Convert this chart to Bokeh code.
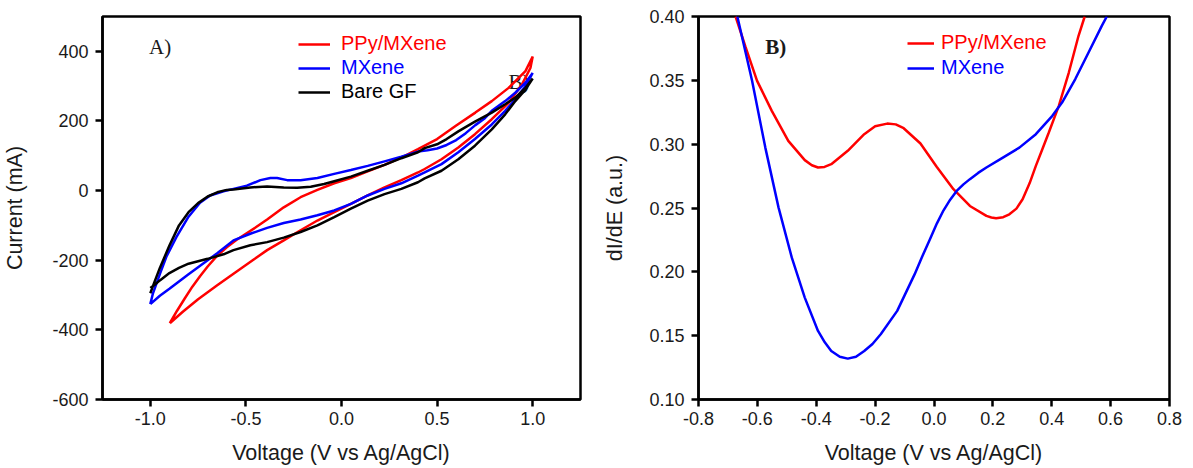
from bokeh.plotting import figure
from bokeh.layouts import row
from bokeh.models import Legend, LegendItem, FixedTicker, NumeralTickFormatter, Range1d
from bokeh.core.properties import value
from bokeh.embed import file_html
from bokeh.resources import INLINE

# ---------------- Panel A: cyclic voltammograms ----------------
ppy_v = [-0.898, -0.86, -0.82, -0.78, -0.74, -0.70, -0.65, -0.60, -0.55, -0.50, -0.45, -0.389,
         -0.302, -0.214, -0.126, -0.038, 0.049, 0.137, 0.225, 0.313, 0.40, 0.50, 0.60, 0.70,
         0.786, 0.874, 0.962, 1.0,
         0.988, 0.944, 0.874, 0.786, 0.698, 0.611, 0.523, 0.435, 0.40, 0.313, 0.225, 0.137,
         0.049, -0.038, -0.126, -0.214, -0.302, -0.389, -0.459, -0.55, -0.65, -0.75, -0.83, -0.898]
ppy_i = [-381, -345, -310, -276, -246, -218, -187, -163, -142, -124, -106, -83,
         -48, -19, 2, 21, 36, 55, 74, 95, 119, 148, 187, 224,
         257, 295, 343, 385,
         352, 305, 252, 205, 162, 124, 90, 62, 52, 30, 9, -14,
         -38, -62, -86, -114, -143, -171, -198, -233, -272, -312, -348, -381]

mx_v = [-1.0, -0.986, -0.95, -0.916, -0.863, -0.80, -0.74, -0.687, -0.617, -0.565, -0.495, -0.424,
        -0.372, -0.337, -0.284, -0.214, -0.126, -0.038, 0.049, 0.137, 0.225, 0.313, 0.40, 0.45,
        0.50, 0.55, 0.60, 0.65, 0.70, 0.75, 0.786, 0.856, 0.909, 0.962, 1.0,
        0.962, 0.909, 0.856, 0.786, 0.698, 0.611, 0.523, 0.435, 0.40, 0.313, 0.225, 0.137,
        0.049, -0.038, -0.126, -0.214, -0.302, -0.389, -0.477, -0.565, -0.65, -0.70, -0.80,
        -0.90, -0.95, -1.0]
mx_i = [-326, -295, -240, -190, -133, -75, -35, -14, -2, 5, 14, 30,
        36, 36, 30, 30, 36, 48, 59, 71, 84, 97, 112, 116,
        121, 131, 145, 165, 188, 208, 229, 257, 281, 310, 338,
        300, 262, 229, 190, 148, 110, 76, 52, 43, 21, 5, -14,
        -38, -57, -71, -83, -93, -107, -124, -143, -180, -200, -240,
        -282, -302, -326]

gf_v = [-1.0, -0.98, -0.95, -0.90, -0.85, -0.80, -0.75, -0.70, -0.65, -0.60, -0.565, -0.477,
        -0.389, -0.302, -0.232, -0.161, -0.091, -0.038, 0.049, 0.137, 0.225, 0.313, 0.40, 0.435,
        0.50, 0.55, 0.611, 0.698, 0.786, 0.856, 0.909, 0.962, 1.0,
        0.962, 0.909, 0.856, 0.786, 0.698, 0.611, 0.523, 0.435, 0.40, 0.313, 0.225, 0.137,
        0.049, -0.038, -0.126, -0.214, -0.302, -0.389, -0.477, -0.565, -0.617, -0.70, -0.80,
        -0.85, -0.90, -0.95, -0.98, -1.0]
gf_i = [-295, -265, -222, -158, -100, -62, -36, -17, -5, 2, 3, 9,
        12, 9, 8, 11, 19, 27, 40, 57, 74, 93, 110, 122,
        133, 148, 170, 198, 224, 248, 267, 295, 322,
        290, 257, 219, 176, 129, 90, 57, 35, 24, 5, -10, -29,
        -52, -76, -100, -119, -135, -148, -157, -171, -183, -196, -210,
        -222, -237, -258, -272, -280]

a_xticks = [-1.0, -0.5, 0.0, 0.5, 1.0]
a_yticks = [-600, -400, -200, 0, 200, 400]

# ---------------- Panel B: dI/dE ----------------
ppy_dv = [-0.674, -0.64, -0.601, -0.551, -0.495, -0.439, -0.415, -0.394, -0.372, -0.349, -0.293,
          -0.237, -0.20, -0.159, -0.13, -0.103, -0.046, 0.009, 0.066, 0.122, 0.178, 0.195, 0.211,
          0.235, 0.256, 0.28, 0.301, 0.325, 0.346, 0.368, 0.390, 0.424, 0.458, 0.491, 0.512]
ppy_di = [0.400, 0.376, 0.3496, 0.3261, 0.3026, 0.2875, 0.2835, 0.2817, 0.2822, 0.2843, 0.2948,
          0.3078, 0.3140, 0.3161, 0.3155, 0.3125, 0.3005, 0.2823, 0.2647, 0.2516, 0.2438, 0.2426, 0.2420,
          0.2428, 0.2451, 0.2495, 0.2569, 0.2695, 0.2830, 0.2960, 0.3091, 0.3300, 0.3561, 0.3849, 0.400]

mx_dv = [-0.668, -0.618, -0.573, -0.528, -0.483, -0.439, -0.394, -0.371, -0.349, -0.32, -0.293,
         -0.265, -0.237, -0.209, -0.181, -0.125, -0.066, -0.04, -0.013, 0.01, 0.032, 0.055, 0.077,
         0.10, 0.122, 0.15, 0.178, 0.234, 0.290, 0.346, 0.402, 0.435, 0.480, 0.525, 0.570, 0.587]
mx_di = [0.400, 0.3496, 0.2973, 0.2503, 0.2111, 0.1798, 0.1537, 0.1448, 0.1380, 0.1335, 0.1320,
         0.1335, 0.1380, 0.1435, 0.1511, 0.1694, 0.1980, 0.2120, 0.2260, 0.2380, 0.2480, 0.2565, 0.2634,
         0.2685, 0.2726, 0.2775, 0.2817, 0.2895, 0.2973, 0.3078, 0.3222, 0.3326, 0.3510, 0.3718, 0.3927, 0.400]

b_xticks = [-0.8, -0.6, -0.4, -0.2, 0.0, 0.2, 0.4, 0.6, 0.8]
b_yticks = [0.10, 0.15, 0.20, 0.25, 0.30, 0.35, 0.40]

series_a = ["PPy/MXene", "MXene", "Bare GF"]
series_b = ["PPy/MXene", "MXene"]
colors = {"PPy/MXene": "#ff0000", "MXene": "#0000ff", "Bare GF": "#000000"}

SANS = "Liberation Sans"
SERIF = "Liberation Serif"
TXT = "#1a1a1a"


def style(p, xticks, yticks, xfmt, yfmt):
    p.xgrid.visible = False
    p.ygrid.visible = False
    p.outline_line_color = "black"
    p.outline_line_width = 2.5
    p.outline_line_alpha = 1.0
    p.background_fill_color = "white"
    p.border_fill_color = "white"
    p.xaxis[0].ticker = FixedTicker(ticks=xticks)
    p.yaxis[0].ticker = FixedTicker(ticks=yticks)
    p.xaxis[0].formatter = NumeralTickFormatter(format=xfmt)
    p.yaxis[0].formatter = NumeralTickFormatter(format=yfmt)
    for ax in (p.xaxis[0], p.yaxis[0]):
        ax.axis_line_width = 2.5
        ax.axis_line_color = "black"
        ax.major_tick_line_width = 2.5
        ax.major_tick_line_color = "black"
        ax.major_tick_out = 7
        ax.major_tick_in = 0
        ax.minor_tick_out = 0
        ax.minor_tick_in = 0
        ax.major_label_text_font = SANS
        ax.major_label_text_font_size = "18px"
        ax.major_label_text_color = TXT
        ax.axis_label_text_font = SANS
        ax.axis_label_text_font_size = "21.5px"
        ax.axis_label_text_font_style = "normal"
        ax.axis_label_text_color = TXT
    p.xaxis[0].major_label_standoff = 5
    p.xaxis[0].axis_label_standoff = 13
    p.yaxis[0].major_label_standoff = 7


def add_legend(p, renderer, label, color, x, y, glyph_w, standoff):
    leg = Legend(items=[LegendItem(label=label, renderers=[renderer])],
                 location=(x, y), orientation="vertical",
                 padding=0, margin=0, spacing=0,
                 border_line_alpha=0, background_fill_alpha=0,
                 glyph_width=glyph_w, glyph_height=20, label_height=20,
                 label_standoff=standoff,
                 label_text_font=SANS, label_text_font_size="20px",
                 label_text_color=color)
    p.add_layout(leg)


# ---------- figure A ----------
pa = figure(width=600, height=468, output_backend="svg", toolbar_location=None,
            x_range=Range1d(-1.25, 1.25), y_range=Range1d(-600, 500),
            min_border_left=100, min_border_right=20, min_border_top=15, min_border_bottom=69,
            x_axis_label="Voltage (V vs Ag/AgCl)", y_axis_label="Current (mA)")
style(pa, a_xticks, a_yticks, "0.0", "0")
pa.yaxis[0].axis_label_standoff = 22

pa.text(x=[-1.007], y=[413], text=["A)"], text_font=value(SERIF), text_font_size="21px",
        text_baseline="middle", text_align="left", text_color=TXT)
pa.text(x=[0.874], y=[312], text=["B)"], text_font=value(SERIF), text_font_size="21px",
        text_baseline="middle", text_align="left", text_color=TXT)

ra = {}
ra["PPy/MXene"] = pa.line(ppy_v, ppy_i, line_color=colors["PPy/MXene"], line_width=2.5)
ra["MXene"] = pa.line(mx_v, mx_i, line_color=colors["MXene"], line_width=2.5)
ra["Bare GF"] = pa.line(gf_v, gf_i, line_color=colors["Bare GF"], line_width=2.5)

for k, name in enumerate(series_a):
    add_legend(pa, ra[name], name, colors[name], 196, 344 - 24 * k, 32, 11)

# ---------- figure B ----------
pb = figure(width=593, height=468, output_backend="svg", toolbar_location=None,
            x_range=Range1d(-0.8, 0.8), y_range=Range1d(0.10, 0.40),
            min_border_left=93, min_border_right=24, min_border_top=16, min_border_bottom=69,
            x_axis_label="Voltage (V vs Ag/AgCl)", y_axis_label="dI/dE (a.u.)")
style(pb, b_xticks, b_yticks, "0.0", "0.00")
pb.yaxis[0].axis_label_standoff = 19

pb.text(x=[-0.573], y=[0.3764], text=["B)"], text_font=value(SERIF), text_font_size="21px",
        text_font_style="bold", text_baseline="middle", text_align="left", text_color=TXT)

rb = {}
rb["PPy/MXene"] = pb.line(ppy_dv, ppy_di, line_color=colors["PPy/MXene"], line_width=2.5)
rb["MXene"] = pb.line(mx_dv, mx_di, line_color=colors["MXene"], line_width=2.5)

for k, name in enumerate(series_b):
    add_legend(pb, rb[name], name, colors[name], 209, 345 - 25 * k, 27, 7)

layout = row(pa, pb)
open("out.html", "w").write(file_html(layout, INLINE))
